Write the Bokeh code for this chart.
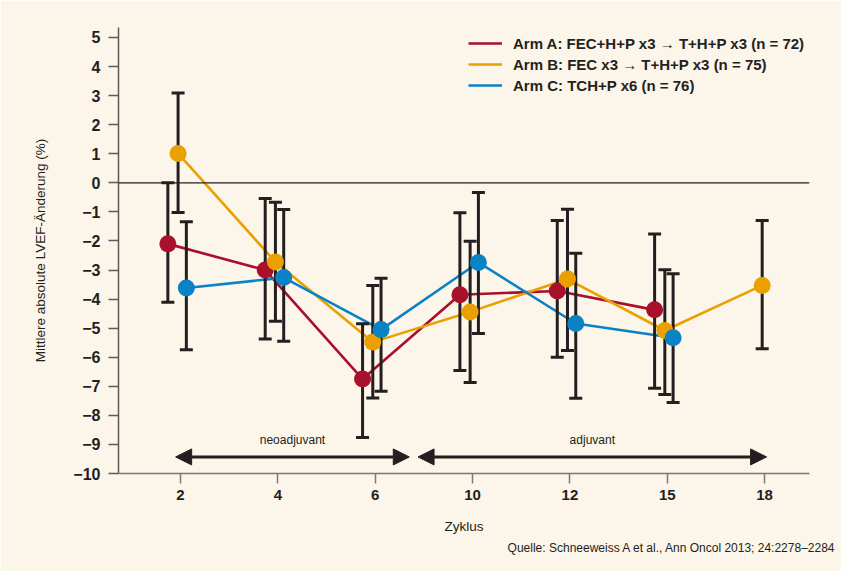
from bokeh.plotting import figure
from bokeh.models import (Range1d, FixedTicker, Span, Arrow, NormalHead, Legend,
                          LegendItem, Title)
from bokeh.core.properties import value
from bokeh.embed import file_html
from bokeh.resources import INLINE

# ---------------- data ----------------
cycles = ["2", "4", "6", "10", "12", "15", "18"]

arm_labels = [
    "Arm A: FEC+H+P x3 \u2192 T+H+P x3 (n = 72)",
    "Arm B: FEC x3 \u2192 T+H+P x3 (n = 75)",
    "Arm C: TCH+P x6 (n = 76)",
]

# Arm A (cycles 2..15)
arm_a_mean = [-2.10, -3.00, -6.75, -3.85, -3.72, -4.37]
arm_a_upper = [0.00, -0.54, -4.85, -1.03, -1.30, -1.76]
arm_a_lower = [-4.11, -5.37, -8.76, -6.46, -6.00, -7.07]

# Arm B (cycles 2..18)
arm_b_mean = [1.01, -2.72, -5.48, -4.44, -3.31, -5.08, -3.53]
arm_b_upper = [3.09, -0.67, -3.53, -2.01, -0.91, -2.99, -1.30]
arm_b_lower = [-1.02, -4.76, -7.40, -6.87, -5.77, -7.28, -5.71]

# Arm C (cycles 2..15)
arm_c_mean = [-3.62, -3.26, -5.05, -2.74, -4.84, -5.33]
arm_c_upper = [-1.34, -0.92, -3.28, -0.33, -2.42, -3.13]
arm_c_lower = [-5.74, -5.45, -7.17, -5.18, -7.41, -7.56]

y_ticks = list(range(-10, 6))

phases = ["neoadjuvant", "adjuvant"]
phase_start = [-0.05, 2.44]
phase_end = [2.35, 6.02]

source_text = "Quelle: Schneeweiss A et al., Ann Oncol 2013; 24:2278\u20132284"

# ---------------- style ----------------
FONT = "Liberation Sans"
BG = "#FCF5EA"
INK = "#231F20"
AXIS = "#7A7A7A"
colors = ["#A8102B", "#E9A000", "#0A82C6"]
offsets = [-0.13, -0.025, 0.06]

p = figure(frame_width=691, frame_height=446,
           output_backend="svg", toolbar_location=None,
           x_range=Range1d(-0.637, 6.461), y_range=Range1d(-10, 5.344),
           min_border_left=118, min_border_right=32, min_border_top=27,
           min_border_bottom=98)
p.background_fill_color = BG
p.border_fill_color = BG
p.outline_line_color = None
p.xgrid.visible = False
p.ygrid.visible = False

for ax in (p.xaxis[0], p.yaxis[0]):
    ax.axis_line_color = AXIS
    ax.axis_line_width = 1.5
    ax.major_tick_line_color = AXIS
    ax.major_tick_line_width = 1.5
    ax.major_tick_in = 0
    ax.major_tick_out = 10
    ax.minor_tick_line_color = None
    ax.major_label_text_font = FONT
    ax.major_label_text_font_style = "bold"
    ax.major_label_text_color = INK
    ax.axis_label_text_font = FONT
    ax.axis_label_text_font_style = "normal"
    ax.axis_label_text_font_size = "13.5px"
    ax.axis_label_text_color = INK

p.yaxis.axis_line_color = "#5A5A5A"
p.yaxis.major_tick_line_color = "#5A5A5A"

p.xaxis.ticker = FixedTicker(ticks=list(range(len(cycles))))
p.xaxis.major_label_overrides = {i: c for i, c in enumerate(cycles)}
p.xaxis.major_label_standoff = 6
p.xaxis.major_label_text_font_size = "15px"
p.xaxis.axis_label = "Zyklus"
p.xaxis.axis_label_standoff = 16

p.yaxis.ticker = FixedTicker(ticks=y_ticks)
p.yaxis.major_label_overrides = {v: str(v).replace("-", "\u2212") for v in y_ticks}
p.yaxis.major_label_standoff = 8
p.yaxis.major_label_text_font_size = "16px"
p.yaxis.axis_label = "Mittlere absolute LVEF-\u00c4nderung (%)"
p.yaxis.axis_label_standoff = 22

p.add_layout(Span(location=0, dimension="width", line_color=INK, line_width=1.2))

arms = [
    (arm_a_mean, arm_a_upper, arm_a_lower),
    (arm_b_mean, arm_b_upper, arm_b_lower),
    (arm_c_mean, arm_c_upper, arm_c_lower),
]

line_renderers = []
xs_all = []
for (mean, up, lo), col, off in zip(arms, colors, offsets):
    xs = [i + off for i in range(len(mean))]
    xs_all.append(xs)
    r = p.line(xs, mean, line_color=col, line_width=2.6)
    line_renderers.append(r)

for (mean, up, lo), xs in zip(arms, xs_all):
    p.segment(x0=xs, y0=lo, x1=xs, y1=up, line_color=INK, line_width=3)
    p.scatter(x=xs + xs, y=lo + up, marker="dash", size=13,
              line_color=INK, line_width=3)

for (mean, up, lo), xs, col in zip(arms, xs_all, colors):
    p.scatter(x=xs, y=mean, size=17, fill_color=col, line_color=None)

# phase arrows
for s, e in zip(phase_start, phase_end):
    p.add_layout(Arrow(
        start=NormalHead(size=16, fill_color=INK, line_color=INK, line_width=1),
        end=NormalHead(size=16, fill_color=INK, line_color=INK, line_width=1),
        x_start=s, y_start=-9.43, x_end=e, y_end=-9.43,
        line_color=INK, line_width=3))

p.text(x=[(s + e) / 2 for s, e in zip(phase_start, phase_end)],
       y=[-8.86] * len(phases), text=phases,
       text_align="center", text_baseline="middle",
       text_font=value(FONT), text_font_size="12px", text_color=INK)

legend = Legend(
    items=[LegendItem(label=lab, renderers=[r]) for lab, r in zip(arm_labels, line_renderers)],
    location=(350, 378), padding=0, margin=0, spacing=1,
    label_height=20, glyph_height=20, glyph_width=34, label_standoff=11,
    background_fill_alpha=0, border_line_color=None,
    label_text_font=FONT, label_text_font_style="bold",
    label_text_font_size="15px", label_text_color=INK)
p.add_layout(legend)

p.add_layout(Title(text=source_text, align="right", offset=-27,
                   text_font=FONT, text_font_style="normal",
                   text_font_size="12px", text_color=INK, standoff=4), "below")

open("out.html", "w").write(file_html(p, INLINE))
